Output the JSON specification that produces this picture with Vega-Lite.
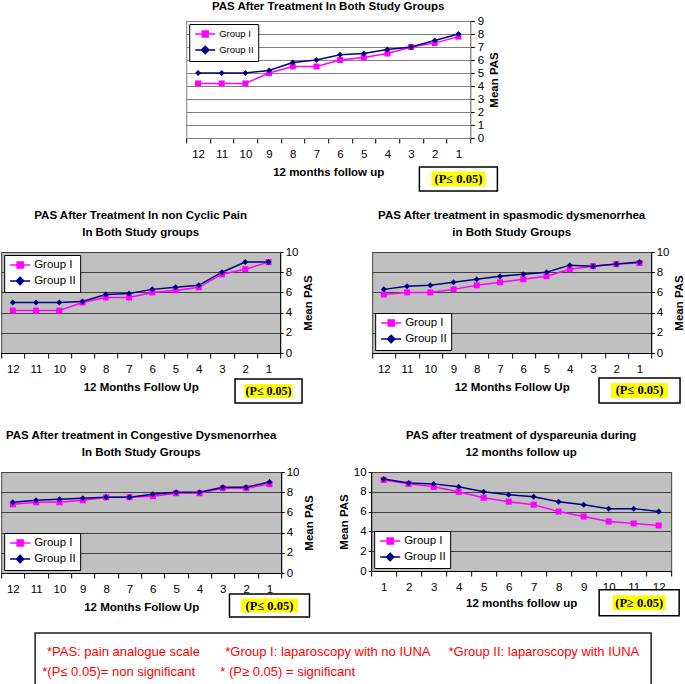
{
 "$schema": "https://vega.github.io/schema/vega-lite/v6.json",
 "padding": 0,
 "background": "white",
 "config": {
  "font": "Liberation Sans",
  "view": {"stroke": null},
  "axis": {"labelFont": "Liberation Sans", "labelFontSize": 11.5, "labelColor": "black", "titleFont": "Liberation Sans", "titleFontSize": 11.5, "titleFontWeight": "bold", "titleColor": "black", "tickColor": "black", "domainColor": "black", "gridOpacity": 1},
  "title": {"font": "Liberation Sans", "fontSize": 11.5, "fontWeight": "bold", "color": "black", "frame": "group", "lineHeight": 17, "offset": 8},
  "legend": {"fillColor": "white", "strokeColor": "black", "padding": 4, "labelFont": "Liberation Sans", "labelFontSize": 11.5, "labelColor": "black", "symbolSize": 100, "labelOffset": 8, "symbolOffset": 6, "rowPadding": 3, "offset": 3}
 },
 "datasets": {
  "A": [
   {"month":12,"group":"Group I","pas":4.2},{"month":11,"group":"Group I","pas":4.2},{"month":10,"group":"Group I","pas":4.2},{"month":9,"group":"Group I","pas":5.0},{"month":8,"group":"Group I","pas":5.5},{"month":7,"group":"Group I","pas":5.5},{"month":6,"group":"Group I","pas":6.0},{"month":5,"group":"Group I","pas":6.2},{"month":4,"group":"Group I","pas":6.5},{"month":3,"group":"Group I","pas":7.0},{"month":2,"group":"Group I","pas":7.3},{"month":1,"group":"Group I","pas":7.8},
   {"month":12,"group":"Group II","pas":5.0},{"month":11,"group":"Group II","pas":5.0},{"month":10,"group":"Group II","pas":5.0},{"month":9,"group":"Group II","pas":5.2},{"month":8,"group":"Group II","pas":5.8},{"month":7,"group":"Group II","pas":6.0},{"month":6,"group":"Group II","pas":6.4},{"month":5,"group":"Group II","pas":6.5},{"month":4,"group":"Group II","pas":6.8},{"month":3,"group":"Group II","pas":7.0},{"month":2,"group":"Group II","pas":7.5},{"month":1,"group":"Group II","pas":8.0}
  ],
  "B": [
   {"month":12,"group":"Group I","pas":4.2},{"month":11,"group":"Group I","pas":4.2},{"month":10,"group":"Group I","pas":4.2},{"month":9,"group":"Group I","pas":5.0},{"month":8,"group":"Group I","pas":5.5},{"month":7,"group":"Group I","pas":5.5},{"month":6,"group":"Group I","pas":6.0},{"month":5,"group":"Group I","pas":6.2},{"month":4,"group":"Group I","pas":6.5},{"month":3,"group":"Group I","pas":7.8},{"month":2,"group":"Group I","pas":8.3},{"month":1,"group":"Group I","pas":9.0},
   {"month":12,"group":"Group II","pas":5.0},{"month":11,"group":"Group II","pas":5.0},{"month":10,"group":"Group II","pas":5.0},{"month":9,"group":"Group II","pas":5.1},{"month":8,"group":"Group II","pas":5.8},{"month":7,"group":"Group II","pas":5.9},{"month":6,"group":"Group II","pas":6.3},{"month":5,"group":"Group II","pas":6.5},{"month":4,"group":"Group II","pas":6.7},{"month":3,"group":"Group II","pas":8.0},{"month":2,"group":"Group II","pas":9.0},{"month":1,"group":"Group II","pas":9.0}
  ],
  "C": [
   {"month":12,"group":"Group I","pas":5.8},{"month":11,"group":"Group I","pas":6.0},{"month":10,"group":"Group I","pas":6.0},{"month":9,"group":"Group I","pas":6.3},{"month":8,"group":"Group I","pas":6.7},{"month":7,"group":"Group I","pas":7.0},{"month":6,"group":"Group I","pas":7.3},{"month":5,"group":"Group I","pas":7.6},{"month":4,"group":"Group I","pas":8.3},{"month":3,"group":"Group I","pas":8.6},{"month":2,"group":"Group I","pas":8.8},{"month":1,"group":"Group I","pas":8.9},
   {"month":12,"group":"Group II","pas":6.3},{"month":11,"group":"Group II","pas":6.6},{"month":10,"group":"Group II","pas":6.7},{"month":9,"group":"Group II","pas":7.0},{"month":8,"group":"Group II","pas":7.3},{"month":7,"group":"Group II","pas":7.6},{"month":6,"group":"Group II","pas":7.8},{"month":5,"group":"Group II","pas":8.0},{"month":4,"group":"Group II","pas":8.7},{"month":3,"group":"Group II","pas":8.6},{"month":2,"group":"Group II","pas":8.8},{"month":1,"group":"Group II","pas":9.0}
  ],
  "D": [
   {"month":12,"group":"Group I","pas":6.8},{"month":11,"group":"Group I","pas":7.0},{"month":10,"group":"Group I","pas":7.0},{"month":9,"group":"Group I","pas":7.2},{"month":8,"group":"Group I","pas":7.5},{"month":7,"group":"Group I","pas":7.5},{"month":6,"group":"Group I","pas":7.6},{"month":5,"group":"Group I","pas":7.9},{"month":4,"group":"Group I","pas":7.9},{"month":3,"group":"Group I","pas":8.4},{"month":2,"group":"Group I","pas":8.4},{"month":1,"group":"Group I","pas":8.8},
   {"month":12,"group":"Group II","pas":7.0},{"month":11,"group":"Group II","pas":7.2},{"month":10,"group":"Group II","pas":7.3},{"month":9,"group":"Group II","pas":7.4},{"month":8,"group":"Group II","pas":7.5},{"month":7,"group":"Group II","pas":7.5},{"month":6,"group":"Group II","pas":7.8},{"month":5,"group":"Group II","pas":8.0},{"month":4,"group":"Group II","pas":8.0},{"month":3,"group":"Group II","pas":8.5},{"month":2,"group":"Group II","pas":8.5},{"month":1,"group":"Group II","pas":9.0}
  ],
  "E": [
   {"month":1,"group":"Group I","pas":9.2},{"month":2,"group":"Group I","pas":8.8},{"month":3,"group":"Group I","pas":8.5},{"month":4,"group":"Group I","pas":8.0},{"month":5,"group":"Group I","pas":7.4},{"month":6,"group":"Group I","pas":7.0},{"month":7,"group":"Group I","pas":6.7},{"month":8,"group":"Group I","pas":6.0},{"month":9,"group":"Group I","pas":5.5},{"month":10,"group":"Group I","pas":5.0},{"month":11,"group":"Group I","pas":4.8},{"month":12,"group":"Group I","pas":4.6},
   {"month":1,"group":"Group II","pas":9.3},{"month":2,"group":"Group II","pas":8.9},{"month":3,"group":"Group II","pas":8.8},{"month":4,"group":"Group II","pas":8.5},{"month":5,"group":"Group II","pas":8.0},{"month":6,"group":"Group II","pas":7.7},{"month":7,"group":"Group II","pas":7.5},{"month":8,"group":"Group II","pas":7.0},{"month":9,"group":"Group II","pas":6.7},{"month":10,"group":"Group II","pas":6.3},{"month":11,"group":"Group II","pas":6.3},{"month":12,"group":"Group II","pas":6.0}
  ]
 },
 "center": true,
 "spacing": 11,
 "resolve": {"scale": {"color": "independent"}, "legend": {"color": "independent"}},
 "vconcat": [
  {
   "center": true,
   "spacing": 14,
   "resolve": {"scale": {"color": "independent"}, "legend": {"color": "independent"}},
   "vconcat": [
    {
     "width": 284, "height": 117,
     "title": {"text": "PAS After Treatment In Both Study Groups", "offset": 3},
     "view": {"fill": "white", "stroke": "#808080"},
     "data": {"name": "A"},
     "encoding": {
      "x": {"field": "month", "type": "ordinal", "scale": {"type": "band", "domain": [12,11,10,9,8,7,6,5,4,3,2,1], "paddingInner": 0, "paddingOuter": 0}, "axis": {"title": "12 months follow up", "labelAngle": 0, "tickBand": "extent", "tickSize": 5, "labelPadding": 5, "titlePadding": 7, "domainColor": "#808080"}},
      "y": {"field": "pas", "type": "quantitative", "scale": {"domain": [0, 9]}, "axis": {"orient": "right", "values": [0,1,2,3,4,5,6,7,8,9], "title": "Mean PAS", "titleAngle": 270, "titleBaseline": "top", "grid": true, "gridColor": "#808080", "domainColor": "#808080", "tickSize": 4, "labelPadding": 3, "titlePadding": 5}}
     },
     "layer": [
      {"mark": {"type": "line", "strokeWidth": 1.5}, "encoding": {"color": {"field": "group", "type": "nominal", "scale": {"domain": ["Group I", "Group II"], "range": ["#ff00ff", "#000080"]}, "legend": {"title": null, "orient": "top-left", "labelFontSize": 9.5, "encode": {"symbols": {"update": {"shape": {"signal": "datum.value === 'Group I' ? 'M-2,0L2,0M-0.6,-0.6L0.6,-0.6L0.6,0.6L-0.6,0.6Z' : 'M-2,0L2,0M0,-0.75L0.75,0L0,0.75L-0.75,0Z'"}, "fill": {"signal": "datum.value === 'Group I' ? '#ff00ff' : '#000080'"}, "stroke": {"signal": "datum.value === 'Group I' ? '#ff00ff' : '#000080'"}, "strokeWidth": {"value": 1.5}, "opacity": {"value": 1}, "size": {"value": 100}}}}}}}},
      {"transform": [{"filter": "datum.group === 'Group I'"}], "mark": {"type": "point", "shape": "square", "filled": true, "size": 36, "opacity": 1, "color": "#ff00ff"}},
      {"transform": [{"filter": "datum.group === 'Group II'"}], "mark": {"type": "point", "shape": "diamond", "filled": true, "size": 36, "opacity": 1, "color": "#000080"}},
      {"transform": [{"filter": "datum.month === 1 && datum.group === 'Group I'"}], "mark": {"type": "point", "shape": "M-1,-0.308L1,-0.308L1,0.308L-1,0.308Z", "size": 6084, "filled": true, "fill": "white", "stroke": "black", "strokeWidth": 1.5, "opacity": 1, "clip": false}, "encoding": {"y": {"datum": -3.15, "type": "quantitative", "scale": {"domain": [0, 9]}}}},
      {"transform": [{"filter": "datum.month === 1 && datum.group === 'Group I'"}], "mark": {"type": "point", "shape": "M-1,-0.278L1,-0.278L1,0.278L-1,0.278Z", "size": 2916, "filled": true, "fill": "#ffff00", "strokeWidth": 0, "opacity": 1, "clip": false}, "encoding": {"y": {"datum": -3.15, "type": "quantitative", "scale": {"domain": [0, 9]}}}},
      {"transform": [{"filter": "datum.month === 1 && datum.group === 'Group I'"}], "mark": {"type": "text", "text": "(P≤ 0.05)", "font": "Liberation Serif", "fontWeight": "bold", "fontSize": 12.5, "color": "black", "baseline": "middle", "clip": false}, "encoding": {"y": {"datum": -3.15, "type": "quantitative", "scale": {"domain": [0, 9]}}}}
     ]
    },
    {
     "spacing": 22,
     "resolve": {"scale": {"color": "independent"}, "legend": {"color": "independent"}},
     "vconcat": [
      {
       "spacing": 56,
       "resolve": {"scale": {"color": "independent"}, "legend": {"color": "independent"}},
       "hconcat": [
        {
         "width": 279, "height": 101,
         "title": {"text": ["PAS After Treatment In non Cyclic Pain", "In Both Study groups"]},
         "view": {"fill": "#c0c0c0", "stroke": "#404040"},
         "data": {"name": "B"},
         "encoding": {
          "x": {"field": "month", "type": "ordinal", "scale": {"type": "band", "domain": [12,11,10,9,8,7,6,5,4,3,2,1], "paddingInner": 0, "paddingOuter": 0}, "axis": {"title": "12 Months Follow Up", "labelAngle": 0, "tickBand": "extent", "tickSize": 5, "labelPadding": 5, "titlePadding": 7}},
          "y": {"field": "pas", "type": "quantitative", "scale": {"domain": [0, 10]}, "axis": {"orient": "right", "values": [0,2,4,6,8,10], "title": "Mean PAS", "titleAngle": 270, "titleBaseline": "top", "grid": true, "gridColor": "#404040", "tickSize": 3, "labelPadding": 2, "titlePadding": 5}}
         },
         "layer": [
          {"mark": {"type": "line", "strokeWidth": 1.5}, "encoding": {"color": {"field": "group", "type": "nominal", "scale": {"domain": ["Group I", "Group II"], "range": ["#ff00ff", "#000080"]}, "legend": {"title": null, "orient": "top-left", "encode": {"symbols": {"update": {"shape": {"signal": "datum.value === 'Group I' ? 'M-2,0L2,0M-0.6,-0.6L0.6,-0.6L0.6,0.6L-0.6,0.6Z' : 'M-2,0L2,0M0,-0.75L0.75,0L0,0.75L-0.75,0Z'"}, "fill": {"signal": "datum.value === 'Group I' ? '#ff00ff' : '#000080'"}, "stroke": {"signal": "datum.value === 'Group I' ? '#ff00ff' : '#000080'"}, "strokeWidth": {"value": 1.5}, "opacity": {"value": 1}, "size": {"value": 100}}}}}}}},
          {"transform": [{"filter": "datum.group === 'Group I'"}], "mark": {"type": "point", "shape": "square", "filled": true, "size": 36, "opacity": 1, "color": "#ff00ff"}},
          {"transform": [{"filter": "datum.group === 'Group II'"}], "mark": {"type": "point", "shape": "diamond", "filled": true, "size": 36, "opacity": 1, "color": "#000080"}},
          {"transform": [{"filter": "datum.month === 1 && datum.group === 'Group I'"}], "mark": {"type": "point", "shape": "M-1,-0.358L1,-0.358L1,0.358L-1,0.358Z", "size": 4489, "filled": true, "fill": "white", "stroke": "black", "strokeWidth": 1.5, "opacity": 1, "clip": false}, "encoding": {"y": {"datum": -3.76, "type": "quantitative", "scale": {"domain": [0, 10]}}}},
          {"transform": [{"filter": "datum.month === 1 && datum.group === 'Group I'"}], "mark": {"type": "point", "shape": "M-1,-0.292L1,-0.292L1,0.292L-1,0.292Z", "size": 2304, "filled": true, "fill": "#ffff00", "strokeWidth": 0, "opacity": 1, "clip": false}, "encoding": {"y": {"datum": -3.76, "type": "quantitative", "scale": {"domain": [0, 10]}}}},
          {"transform": [{"filter": "datum.month === 1 && datum.group === 'Group I'"}], "mark": {"type": "text", "text": "(P≤ 0.05)", "font": "Liberation Serif", "fontWeight": "bold", "fontSize": 12, "color": "black", "baseline": "middle", "clip": false}, "encoding": {"y": {"datum": -3.76, "type": "quantitative", "scale": {"domain": [0, 10]}}}}
         ]
        },
        {
         "width": 279, "height": 101,
         "title": {"text": ["PAS After treatment in spasmodic dysmenorrhea", "in Both Study Groups"]},
         "view": {"fill": "#c0c0c0", "stroke": "#404040"},
         "data": {"name": "C"},
         "encoding": {
          "x": {"field": "month", "type": "ordinal", "scale": {"type": "band", "domain": [12,11,10,9,8,7,6,5,4,3,2,1], "paddingInner": 0, "paddingOuter": 0}, "axis": {"title": "12 Months Follow Up", "labelAngle": 0, "tickBand": "extent", "tickSize": 5, "labelPadding": 5, "titlePadding": 7}},
          "y": {"field": "pas", "type": "quantitative", "scale": {"domain": [0, 10]}, "axis": {"orient": "right", "values": [0,2,4,6,8,10], "title": "Mean PAS", "titleAngle": 270, "titleBaseline": "top", "grid": true, "gridColor": "#404040", "tickSize": 3, "labelPadding": 2, "titlePadding": 5}}
         },
         "layer": [
          {"mark": {"type": "line", "strokeWidth": 1.5}, "encoding": {"color": {"field": "group", "type": "nominal", "scale": {"domain": ["Group I", "Group II"], "range": ["#ff00ff", "#000080"]}, "legend": {"title": null, "orient": "bottom-left", "encode": {"symbols": {"update": {"shape": {"signal": "datum.value === 'Group I' ? 'M-2,0L2,0M-0.6,-0.6L0.6,-0.6L0.6,0.6L-0.6,0.6Z' : 'M-2,0L2,0M0,-0.75L0.75,0L0,0.75L-0.75,0Z'"}, "fill": {"signal": "datum.value === 'Group I' ? '#ff00ff' : '#000080'"}, "stroke": {"signal": "datum.value === 'Group I' ? '#ff00ff' : '#000080'"}, "strokeWidth": {"value": 1.5}, "opacity": {"value": 1}, "size": {"value": 100}}}}}}}},
          {"transform": [{"filter": "datum.group === 'Group I'"}], "mark": {"type": "point", "shape": "square", "filled": true, "size": 36, "opacity": 1, "color": "#ff00ff"}},
          {"transform": [{"filter": "datum.group === 'Group II'"}], "mark": {"type": "point", "shape": "diamond", "filled": true, "size": 36, "opacity": 1, "color": "#000080"}},
          {"transform": [{"filter": "datum.month === 1 && datum.group === 'Group I'"}], "mark": {"type": "point", "shape": "M-1,-0.309L1,-0.309L1,0.309L-1,0.309Z", "size": 6561, "filled": true, "fill": "white", "stroke": "black", "strokeWidth": 1.5, "opacity": 1, "clip": false}, "encoding": {"y": {"datum": -3.71, "type": "quantitative", "scale": {"domain": [0, 10]}}}},
          {"transform": [{"filter": "datum.month === 1 && datum.group === 'Group I'"}], "mark": {"type": "point", "shape": "M-1,-0.263L1,-0.263L1,0.263L-1,0.263Z", "size": 3249, "filled": true, "fill": "#ffff00", "strokeWidth": 0, "opacity": 1, "clip": false}, "encoding": {"y": {"datum": -3.71, "type": "quantitative", "scale": {"domain": [0, 10]}}}},
          {"transform": [{"filter": "datum.month === 1 && datum.group === 'Group I'"}], "mark": {"type": "text", "text": "(P≤ 0.05)", "font": "Liberation Serif", "fontWeight": "bold", "fontSize": 12.5, "color": "black", "baseline": "middle", "clip": false}, "encoding": {"y": {"datum": -3.71, "type": "quantitative", "scale": {"domain": [0, 10]}}}}
         ]
        }
       ]
      },
      {
       "spacing": 21,
       "resolve": {"scale": {"color": "independent"}, "legend": {"color": "independent"}},
       "hconcat": [
        {
         "width": 280, "height": 101,
         "title": {"text": ["PAS After treatment in Congestive Dysmenorrhea", "In Both Study Groups"]},
         "view": {"fill": "#c0c0c0", "stroke": "#404040"},
         "data": {"name": "D"},
         "encoding": {
          "x": {"field": "month", "type": "ordinal", "scale": {"type": "band", "domain": [12,11,10,9,8,7,6,5,4,3,2,1], "paddingInner": 0, "paddingOuter": 0}, "axis": {"title": "12 Months Follow Up", "labelAngle": 0, "tickBand": "extent", "tickSize": 5, "labelPadding": 5, "titlePadding": 7}},
          "y": {"field": "pas", "type": "quantitative", "scale": {"domain": [0, 10]}, "axis": {"orient": "right", "values": [0,2,4,6,8,10], "title": "Mean PAS", "titleAngle": 270, "titleBaseline": "top", "grid": true, "gridColor": "#404040", "tickSize": 3, "labelPadding": 2, "titlePadding": 5}}
         },
         "layer": [
          {"mark": {"type": "line", "strokeWidth": 1.5}, "encoding": {"color": {"field": "group", "type": "nominal", "scale": {"domain": ["Group I", "Group II"], "range": ["#ff00ff", "#000080"]}, "legend": {"title": null, "orient": "bottom-left", "encode": {"symbols": {"update": {"shape": {"signal": "datum.value === 'Group I' ? 'M-2,0L2,0M-0.6,-0.6L0.6,-0.6L0.6,0.6L-0.6,0.6Z' : 'M-2,0L2,0M0,-0.75L0.75,0L0,0.75L-0.75,0Z'"}, "fill": {"signal": "datum.value === 'Group I' ? '#ff00ff' : '#000080'"}, "stroke": {"signal": "datum.value === 'Group I' ? '#ff00ff' : '#000080'"}, "strokeWidth": {"value": 1.5}, "opacity": {"value": 1}, "size": {"value": 100}}}}}}}},
          {"transform": [{"filter": "datum.group === 'Group I'"}], "mark": {"type": "point", "shape": "square", "filled": true, "size": 36, "opacity": 1, "color": "#ff00ff"}},
          {"transform": [{"filter": "datum.group === 'Group II'"}], "mark": {"type": "point", "shape": "diamond", "filled": true, "size": 36, "opacity": 1, "color": "#000080"}},
          {"transform": [{"filter": "datum.month === 1 && datum.group === 'Group I'"}], "mark": {"type": "point", "shape": "M-1,-0.2875L1,-0.2875L1,0.2875L-1,0.2875Z", "size": 6400, "filled": true, "fill": "white", "stroke": "black", "strokeWidth": 1.5, "opacity": 1, "clip": false}, "encoding": {"y": {"datum": -3.22, "type": "quantitative", "scale": {"domain": [0, 10]}}}},
          {"transform": [{"filter": "datum.month === 1 && datum.group === 'Group I'"}], "mark": {"type": "point", "shape": "M-1,-0.246L1,-0.246L1,0.246L-1,0.246Z", "size": 3249, "filled": true, "fill": "#ffff00", "strokeWidth": 0, "opacity": 1, "clip": false}, "encoding": {"y": {"datum": -3.22, "type": "quantitative", "scale": {"domain": [0, 10]}}}},
          {"transform": [{"filter": "datum.month === 1 && datum.group === 'Group I'"}], "mark": {"type": "text", "text": "(P≤ 0.05)", "font": "Liberation Serif", "fontWeight": "bold", "fontSize": 12.5, "color": "black", "baseline": "middle", "clip": false}, "encoding": {"y": {"datum": -3.22, "type": "quantitative", "scale": {"domain": [0, 10]}}}}
         ]
        },
        {
         "width": 300, "height": 99,
         "title": {"text": ["PAS after treatment of dyspareunia during", "12 months follow up"]},
         "view": {"fill": "#c0c0c0", "stroke": "#404040"},
         "data": {"name": "E"},
         "encoding": {
          "x": {"field": "month", "type": "ordinal", "scale": {"type": "band", "domain": [1,2,3,4,5,6,7,8,9,10,11,12], "paddingInner": 0, "paddingOuter": 0}, "axis": {"title": "12 months follow up", "labelAngle": 0, "tickBand": "extent", "tickSize": 5, "labelPadding": 5, "titlePadding": 5}},
          "y": {"field": "pas", "type": "quantitative", "scale": {"domain": [0, 10]}, "axis": {"orient": "left", "values": [0,2,4,6,8,10], "title": "Mean PAS", "grid": true, "gridColor": "#404040", "tickSize": 3, "labelPadding": 2, "titlePadding": 4}}
         },
         "layer": [
          {"mark": {"type": "line", "strokeWidth": 1.5}, "encoding": {"color": {"field": "group", "type": "nominal", "scale": {"domain": ["Group I", "Group II"], "range": ["#ff00ff", "#000080"]}, "legend": {"title": null, "orient": "bottom-left", "encode": {"symbols": {"update": {"shape": {"signal": "datum.value === 'Group I' ? 'M-2,0L2,0M-0.6,-0.6L0.6,-0.6L0.6,0.6L-0.6,0.6Z' : 'M-2,0L2,0M0,-0.75L0.75,0L0,0.75L-0.75,0Z'"}, "fill": {"signal": "datum.value === 'Group I' ? '#ff00ff' : '#000080'"}, "stroke": {"signal": "datum.value === 'Group I' ? '#ff00ff' : '#000080'"}, "strokeWidth": {"value": 1.5}, "opacity": {"value": 1}, "size": {"value": 100}}}}}}}},
          {"transform": [{"filter": "datum.group === 'Group I'"}], "mark": {"type": "point", "shape": "square", "filled": true, "size": 36, "opacity": 1, "color": "#ff00ff"}},
          {"transform": [{"filter": "datum.group === 'Group II'"}], "mark": {"type": "point", "shape": "diamond", "filled": true, "size": 36, "opacity": 1, "color": "#000080"}},
          {"transform": [{"filter": "datum.month === 12 && datum.group === 'Group I'"}], "mark": {"type": "point", "shape": "M-1.4875,-0.325L0.5125,-0.325L0.5125,0.325L-1.4875,0.325Z", "size": 6400, "filled": true, "fill": "white", "stroke": "black", "strokeWidth": 1.5, "opacity": 1, "clip": false}, "encoding": {"y": {"datum": -3.2, "type": "quantitative", "scale": {"domain": [0, 10]}}}},
          {"transform": [{"filter": "datum.month === 12 && datum.group === 'Group I'"}], "mark": {"type": "point", "shape": "M-1.15,-0.1875L0.175,-0.1875L0.175,0.1875L-1.15,0.1875Z", "size": 6400, "filled": true, "fill": "#ffff00", "strokeWidth": 0, "opacity": 1, "clip": false}, "encoding": {"y": {"datum": -3.2, "type": "quantitative", "scale": {"domain": [0, 10]}}}},
          {"transform": [{"filter": "datum.month === 12 && datum.group === 'Group I'"}], "mark": {"type": "text", "text": "(P≥ 0.05)", "font": "Liberation Serif", "fontWeight": "bold", "fontSize": 12.5, "color": "black", "baseline": "middle", "dx": -19.5, "clip": false}, "encoding": {"y": {"datum": -3.2, "type": "quantitative", "scale": {"domain": [0, 10]}}}}
         ]
        }
       ]
      }
     ]
    }
   ]
  },
  {
   "width": 616, "height": 52,
   "view": {"fill": "white", "stroke": "#202020", "strokeWidth": 1.5},
   "data": {"values": [
    {"line": 1, "text": "*PAS: pain analogue scale\u00a0\u00a0\u00a0\u00a0\u00a0\u00a0\u00a0*Group I: laparoscopy with no IUNA\u00a0\u00a0\u00a0\u00a0\u00a0*Group II: laparoscopy with IUNA"},
    {"line": 2, "text": "*(P≤ 0.05)= non significant\u00a0\u00a0\u00a0\u00a0\u00a0\u00a0\u00a0* (P≥ 0.05) = significant\u00a0\u00a0\u00a0\u00a0\u00a0\u00a0\u00a0\u00a0\u00a0\u00a0\u00a0\u00a0\u00a0\u00a0\u00a0\u00a0\u00a0\u00a0\u00a0\u00a0\u00a0\u00a0\u00a0\u00a0\u00a0\u00a0\u00a0\u00a0\u00a0\u00a0\u00a0\u00a0\u00a0\u00a0\u00a0\u00a0\u00a0\u00a0\u00a0\u00a0\u00a0\u00a0\u00a0\u00a0\u00a0\u00a0\u00a0\u00a0\u00a0\u00a0\u00a0\u00a0\u00a0\u00a0\u00a0\u00a0\u00a0\u00a0\u00a0\u00a0\u00a0\u00a0\u00a0\u00a0\u00a0\u00a0\u00a0\u00a0\u00a0\u00a0\u00a0\u00a0\u00a0\u00a0\u00a0\u00a0\u00a0\u00a0\u00a0\u00a0\u2060"}
   ]},
   "mark": {"type": "text", "color": "#ff0000", "font": "Liberation Sans", "fontSize": 13, "baseline": "middle", "dy": 3},
   "encoding": {
    "y": {"field": "line", "type": "ordinal", "axis": null, "scale": {"type": "point", "padding": 0.8}},
    "text": {"field": "text"}
   }
  }
 ]
}
